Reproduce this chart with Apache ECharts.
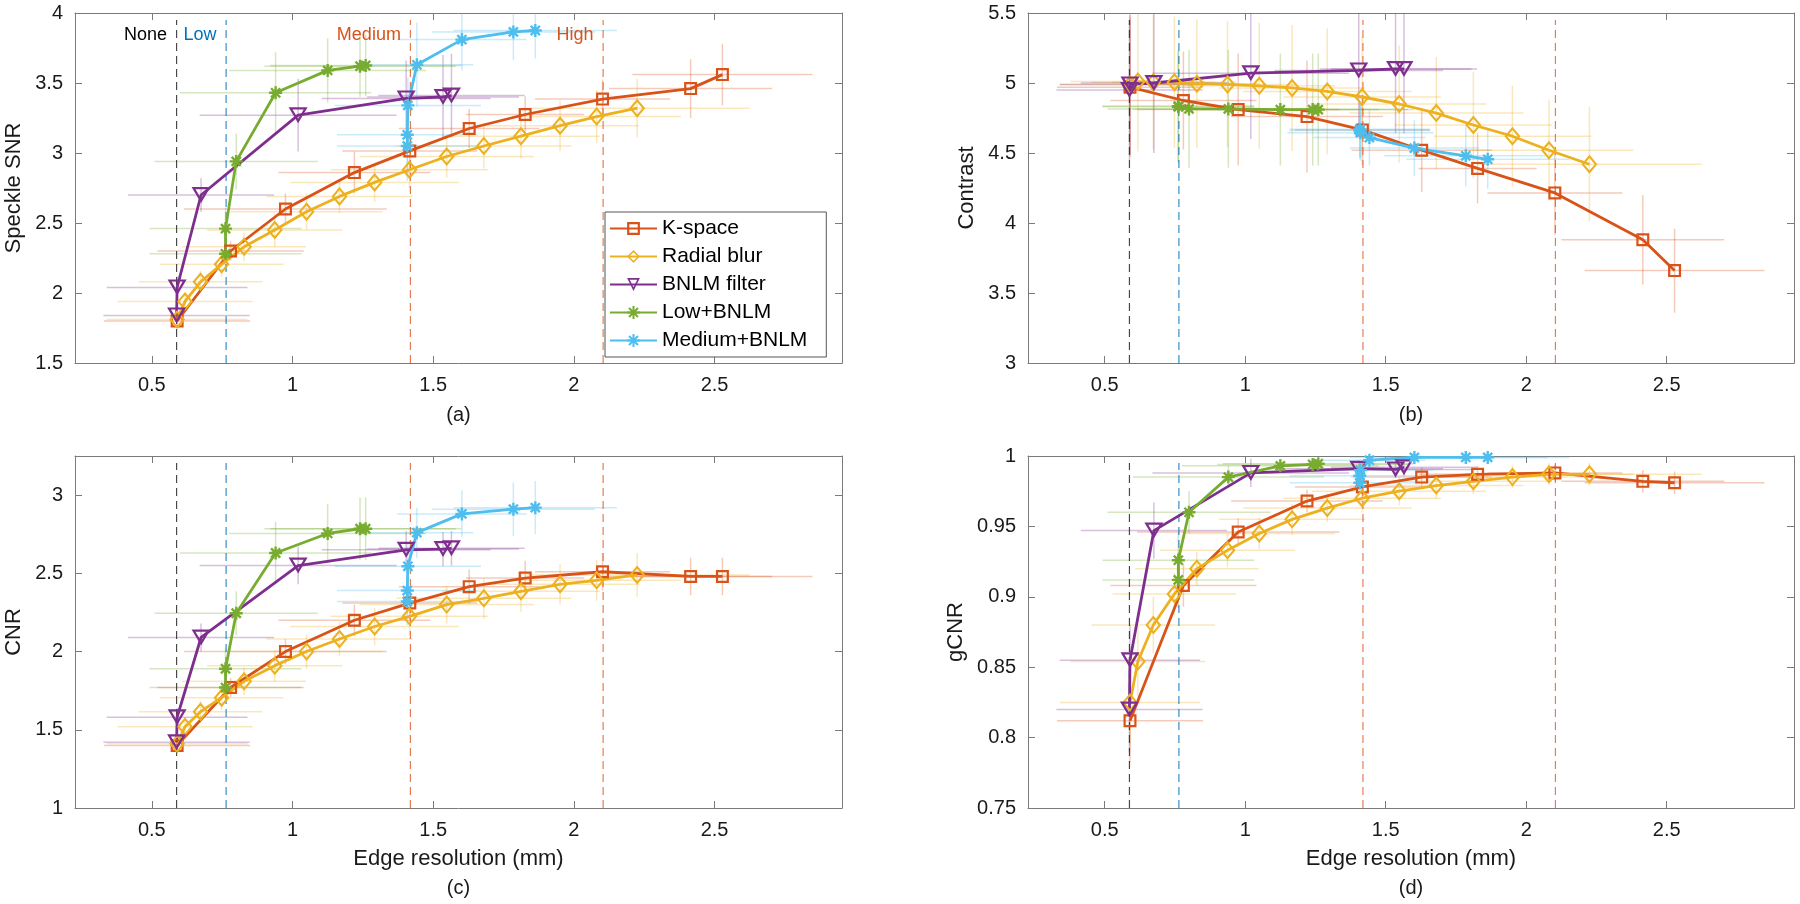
<!DOCTYPE html>
<html><head><meta charset="utf-8">
<script src="https://cdn.jsdelivr.net/npm/echarts@6/dist/echarts.min.js"></script>
<style>html,body{margin:0;padding:0;background:#fff}#c{width:1800px;height:904px}</style>
</head><body><div id="c"></div>
<script>
// ---------------- data ----------------
const seriesNames = ['K-space', 'Radial blur', 'BNLM filter', 'Low+BNLM', 'Medium+BNLM'];
const panelNames = ['Speckle SNR', 'Contrast', 'CNR', 'gCNR'];
const panelCaptions = ['(a)', '(b)', '(c)', '(d)'];
const xAxisTitle = 'Edge resolution (mm)';
const levelNames = ['None', 'Low', 'Medium', 'High'];
const levelX = [0.588, 0.764, 1.419, 2.104];

// edge resolution (x) of each point, shared by all panels
const xK = [0.59, 0.78, 0.975, 1.22, 1.417, 1.628, 1.827, 2.102, 2.415, 2.528];
const xR = [0.59, 0.618, 0.673, 0.748, 0.828, 0.937, 1.05, 1.167, 1.292, 1.416, 1.548, 1.68, 1.812, 1.951, 2.081, 2.225];
const xB = [0.588, 0.59, 0.675, 1.02, 1.404, 1.535, 1.565];
const xL = [0.762, 0.762, 0.8, 0.94, 1.125, 1.24, 1.26];
const xM = [1.408, 1.408, 1.41, 1.442, 1.602, 1.785, 1.863];
// horizontal error (half width)
const xErrK = [0.26, 0.26, 0.36, 0.27, 0.24, 0.25, 0.21, 0.24, 0.29, 0.32];
const xErrR = [0.25, 0.24, 0.22, 0.22, 0.22, 0.24, 0.27, 0.26, 0.30, 0.28, 0.31, 0.31, 0.28, 0.28, 0.30, 0.40];
const xErrB = [0.26, 0.25, 0.26, 0.35, 0.30, 0.27, 0.26];
const xErrL = [0.27, 0.27, 0.29, 0.34, 0.35, 0.34, 0.34];
const xErrM = [0.25, 0.25, 0.26, 0.20, 0.23, 0.29, 0.29];

// (a) Speckle SNR
const snrK = [1.80, 2.30, 2.60, 2.86, 3.015, 3.175, 3.275, 3.385, 3.46, 3.56];
const snrR = [1.81, 1.94, 2.08, 2.205, 2.33, 2.45, 2.58, 2.69, 2.79, 2.88, 2.975, 3.05, 3.12, 3.195, 3.26, 3.32];
const snrB = [1.84, 2.04, 2.70, 3.27, 3.39, 3.40, 3.41];
const snrL = [2.28, 2.46, 2.94, 3.43, 3.59, 3.62, 3.625];
const snrM = [3.05, 3.13, 3.34, 3.63, 3.81, 3.865, 3.875];
const snrErrK = [0.05, 0.07, 0.11, 0.15, 0.13, 0.14, 0.13, 0.14, 0.21, 0.22];
const snrErrR = [0.05, 0.06, 0.08, 0.09, 0.10, 0.12, 0.13, 0.12, 0.14, 0.13, 0.15, 0.16, 0.16, 0.18, 0.19, 0.21];
const snrErrB = [0.05, 0.08, 0.12, 0.26, 0.27, 0.30, 0.30];
const snrErrL = [0.12, 0.15, 0.20, 0.29, 0.23, 0.22, 0.22];
const snrErrM = [0.25, 0.25, 0.20, 0.30, 0.22, 0.20, 0.20];

// (b) Contrast
const conK = [4.97, 4.875, 4.81, 4.76, 4.665, 4.52, 4.39, 4.215, 3.88, 3.66];
const conR = [4.99, 5.01, 5.005, 5.005, 4.995, 4.99, 4.98, 4.965, 4.94, 4.90, 4.85, 4.785, 4.70, 4.62, 4.52, 4.42];
const conB = [4.95, 4.99, 5.00, 5.07, 5.09, 5.10, 5.10];
const conL = [4.835, 4.83, 4.815, 4.815, 4.81, 4.81, 4.81];
const conM = [4.67, 4.66, 4.645, 4.61, 4.535, 4.48, 4.455];
const conErrK = [0.50, 0.35, 0.40, 0.40, 0.25, 0.30, 0.25, 0.30, 0.32, 0.30];
const conErrR = [0.50, 0.50, 0.48, 0.47, 0.46, 0.45, 0.45, 0.45, 0.45, 0.43, 0.42, 0.40, 0.38, 0.36, 0.36, 0.41];
const conErrB = [0.50, 0.50, 0.50, 0.47, 0.47, 0.46, 0.46];
const conErrL = [0.40, 0.40, 0.42, 0.42, 0.40, 0.40, 0.40];
const conErrM = [0.20, 0.20, 0.20, 0.20, 0.20, 0.22, 0.21];

// (c) CNR
const cnrK = [1.40, 1.77, 2.00, 2.20, 2.31, 2.415, 2.47, 2.51, 2.48, 2.48];
const cnrR = [1.41, 1.52, 1.615, 1.705, 1.81, 1.91, 2.00, 2.08, 2.16, 2.225, 2.30, 2.34, 2.385, 2.43, 2.455, 2.49];
const cnrB = [1.42, 1.58, 2.09, 2.55, 2.65, 2.655, 2.66];
const cnrL = [1.77, 1.89, 2.245, 2.63, 2.755, 2.785, 2.785];
const cnrM = [2.32, 2.39, 2.545, 2.76, 2.88, 2.91, 2.92];
const cnrErrK = [0.05, 0.06, 0.08, 0.10, 0.10, 0.11, 0.11, 0.12, 0.12, 0.12];
const cnrErrR = [0.05, 0.06, 0.07, 0.08, 0.09, 0.10, 0.11, 0.11, 0.12, 0.12, 0.12, 0.13, 0.13, 0.13, 0.13, 0.14];
const cnrErrB = [0.05, 0.06, 0.09, 0.12, 0.12, 0.11, 0.11];
const cnrErrL = [0.10, 0.13, 0.14, 0.20, 0.19, 0.20, 0.20];
const cnrErrM = [0.15, 0.15, 0.15, 0.16, 0.15, 0.17, 0.17];

// (d) gCNR
const gcnrK = [0.812, 0.908, 0.946, 0.968, 0.978, 0.985, 0.987, 0.988, 0.982, 0.981];
const gcnrR = [0.825, 0.854, 0.88, 0.902, 0.92, 0.933, 0.945, 0.955, 0.963, 0.97, 0.975, 0.979, 0.982, 0.985, 0.987, 0.987];
const gcnrB = [0.82, 0.855, 0.947, 0.988, 0.991, 0.9905, 0.992];
const gcnrL = [0.912, 0.926, 0.96, 0.985, 0.993, 0.994, 0.9945];
const gcnrM = [0.981, 0.986, 0.99, 0.997, 0.999, 0.999, 0.999];
const gcnrErrK = [0.03, 0.015, 0.01, 0.008, 0.008, 0.007, 0.006, 0.006, 0.008, 0.008];
const gcnrErrR = [0.03, 0.025, 0.02, 0.015, 0.012, 0.012, 0.011, 0.011, 0.01, 0.01, 0.01, 0.009, 0.009, 0.008, 0.008, 0.008];
const gcnrErrB = [0.03, 0.025, 0.02, 0.01, 0.006, 0.006, 0.006];
const gcnrErrL = [0.02, 0.02, 0.015, 0.008, 0.005, 0.004, 0.004];
const gcnrErrM = [0.008, 0.008, 0.006, 0.003, 0.002, 0.002, 0.002];

// axis ranges
const xRange = [0.227, 2.953];
const yRanges = [[1.5, 4], [3, 5.5], [1, 3.25], [0.75, 1]];
const yIntervals = [0.5, 0.5, 0.5, 0.05];

// ---------------- styling / layout ----------------
const FONT = '"Liberation Sans", Arial, Helvetica, sans-serif';
const colors = ['#D95319', '#EDB120', '#7E2F8E', '#77AC30', '#4DBEEE'];
const levelColors = ['#000000', '#0072BD', '#D95319', '#D95319'];
const levelLineColors = ['rgba(40,40,40,0.85)', 'rgba(0,114,189,0.8)', 'rgba(217,83,25,0.75)', 'rgba(217,83,25,0.75)'];
const axisColor = '#7a7a7a';
const textColor = '#1a1a1a';
const grids = [
  {left: 75, top: 13, width: 767, height: 350},
  {left: 1028, top: 13, width: 766, height: 350},
  {left: 75, top: 456, width: 767, height: 352},
  {left: 1028, top: 456, width: 766, height: 352}
];
const symbols = [
  {symbol: 'path://M0,0H10V10H0Z M1.7,1.7V8.3H8.3V1.7Z', size: 13, stroke: false},
  {symbol: 'path://M5,0L10,5L5,10L0,5Z M5,1.7L1.7,5L5,8.3L8.3,5Z', size: [16, 19], stroke: false},
  {symbol: 'path://M0,0L10,0L5,8.66Z M2.08,1.2L5,6.26L7.92,1.2Z', size: [19, 16], stroke: false},
  {symbol: 'path://M5,0V10M0,5H10M1.5,1.5L8.5,8.5M1.5,8.5L8.5,1.5', size: 13, stroke: true},
  {symbol: 'path://M5,0V10M0,5H10M1.5,1.5L8.5,8.5M1.5,8.5L8.5,1.5', size: 13, stroke: true}
];

const xs = [xK, xR, xB, xL, xM];
const xErrs = [xErrK, xErrR, xErrB, xErrL, xErrM];
const panelY = [
  [snrK, snrR, snrB, snrL, snrM],
  [conK, conR, conB, conL, conM],
  [cnrK, cnrR, cnrB, cnrL, cnrM],
  [gcnrK, gcnrR, gcnrB, gcnrL, gcnrM]
];
const panelYErr = [
  [snrErrK, snrErrR, snrErrB, snrErrL, snrErrM],
  [conErrK, conErrR, conErrB, conErrL, conErrM],
  [cnrErrK, cnrErrR, cnrErrB, cnrErrL, cnrErrM],
  [gcnrErrK, gcnrErrR, gcnrErrB, gcnrErrL, gcnrErrM]
];

function multFmt(step) {
  return function (v) {
    const r = v / step;
    if (Math.abs(r - Math.round(r)) > 1e-6) return '';
    return String(parseFloat(v.toFixed(3)));
  };
}

const xAxes = [], yAxes = [], series = [], graphics = [];
for (let p = 0; p < 4; p++) {
  const [yMin, yMax] = yRanges[p];
  const common = {
    type: 'value', gridIndex: p,
    axisLine: {show: true, onZero: false, lineStyle: {color: axisColor, width: 1}},
    axisTick: {show: true, inside: true, length: 7, lineStyle: {color: axisColor, width: 1}},
    splitLine: {show: false}
  };
  xAxes.push(Object.assign({}, common, {
    position: 'bottom', min: xRange[0], max: xRange[1], splitNumber: 5,
    axisLabel: {margin: 12, fontSize: 20, color: textColor, fontFamily: FONT, formatter: multFmt(0.5)},
    name: p >= 2 ? xAxisTitle : '', nameLocation: 'middle', nameGap: 40,
    nameTextStyle: {fontSize: 22, color: textColor, fontFamily: FONT}
  }));
  xAxes.push(Object.assign({}, common, {
    position: 'top', min: xRange[0], max: xRange[1], splitNumber: 5, axisLabel: {show: false}
  }));
  yAxes.push(Object.assign({}, common, {
    position: 'left', min: yMin, max: yMax, interval: yIntervals[p],
    axisLabel: {margin: 12, fontSize: 20, color: textColor, fontFamily: FONT, formatter: multFmt(yIntervals[p])},
    name: panelNames[p], nameLocation: 'middle', nameRotate: 90, nameGap: p === 3 ? 61 : 50,
    nameTextStyle: {fontSize: 22, color: textColor, fontFamily: FONT}
  }));
  yAxes.push(Object.assign({}, common, {
    position: 'right', min: yMin, max: yMax, interval: yIntervals[p], axisLabel: {show: false}
  }));

  // error bars
  for (let s = 0; s < 5; s++) {
    const col = colors[s];
    series.push({
      type: 'custom', xAxisIndex: 2 * p, yAxisIndex: 2 * p, z: 1, silent: true, clip: true,
      data: xs[s].map((x, k) => [x, panelY[p][s][k], xErrs[s][k], panelYErr[p][s][k]]),
      encode: {x: 0, y: 1},
      renderItem: function (params, api) {
        const x = api.value(0), y = api.value(1), ex = api.value(2), ey = api.value(3);
        const cs = params.coordSys;
        const clampY = v => Math.max(cs.y, Math.min(cs.y + cs.height, v));
        const clampX = v => Math.max(cs.x, Math.min(cs.x + cs.width, v));
        const l = api.coord([x - ex, y]), r = api.coord([x + ex, y]);
        const b = api.coord([x, y - ey]), t = api.coord([x, y + ey]);
        const st = {stroke: col, lineWidth: 1.5, opacity: 0.3};
        return {type: 'group', children: [
          {type: 'line', shape: {x1: clampX(l[0]), y1: l[1], x2: clampX(r[0]), y2: r[1]}, style: st},
          {type: 'line', shape: {x1: b[0], y1: clampY(b[1]), x2: t[0], y2: clampY(t[1])}, style: st}
        ]};
      }
    });
  }
  // level dashed lines
  const yTop = yMax - 0.02 * (yMax - yMin);
  levelX.forEach((lx, k) => {
    series.push({
      type: 'line', xAxisIndex: 2 * p, yAxisIndex: 2 * p, z: 2, silent: true, symbol: 'none',
      data: [[lx, yMin], [lx, yTop]],
      lineStyle: {color: levelLineColors[k], width: 1.2, type: [8, 5]}
    });
  });
  // data series
  for (let s = 0; s < 5; s++) {
    const c = colors[s], sy = symbols[s];
    series.push({
      type: 'line', name: seriesNames[s], xAxisIndex: 2 * p, yAxisIndex: 2 * p, z: 3,
      data: xs[s].map((x, k) => [x, panelY[p][s][k]]),
      symbol: sy.symbol, symbolSize: sy.size, showAllSymbol: true,
      lineStyle: {color: c, width: 2.8},
      itemStyle: sy.stroke ? {color: c, borderColor: c, borderWidth: 2.4} : {color: c, borderWidth: 0}
    });
  }
  // caption
  const g = grids[p];
  graphics.push({
    type: 'text', x: g.left + g.width / 2, y: p < 2 ? 415 : 888,
    style: {text: panelCaptions[p], fill: textColor, font: '20px ' + FONT, align: 'center', verticalAlign: 'middle',
      textAlign: 'center', textVerticalAlign: 'middle'}
  });
}
// level labels in panel (a), near the top of the plot area
const labelY = yRanges[0][1] - 0.064 * (yRanges[0][1] - yRanges[0][0]);
series.push({
  type: 'scatter', xAxisIndex: 0, yAxisIndex: 0, z: 4, silent: true, symbolSize: 1,
  itemStyle: {color: 'rgba(0,0,0,0)'},
  data: levelX.map((x, k) => ({
    value: [x, labelY],
    label: {show: true, formatter: levelNames[k], position: 'left', distance: 9,
      color: levelColors[k], fontSize: 18, fontFamily: FONT, opacity: 1}
  }))
});

const chart = echarts.init(document.getElementById('c'), null, {renderer: 'canvas'});
chart.setOption({
  animation: false,
  backgroundColor: '#ffffff',
  grid: grids,
  xAxis: xAxes,
  yAxis: yAxes,
  legend: {
    data: seriesNames, orient: 'vertical', left: 605, top: 212,
    itemWidth: 47, itemHeight: 16, itemGap: 7,
    backgroundColor: '#ffffff', borderColor: '#555555', borderWidth: 1,
    padding: [6, 19, 6, 4],
    textStyle: {fontSize: 21, lineHeight: 20, color: '#000', fontFamily: FONT},
    selectedMode: false
  },
  series: series,
  graphic: graphics
});
</script>
</body></html>
